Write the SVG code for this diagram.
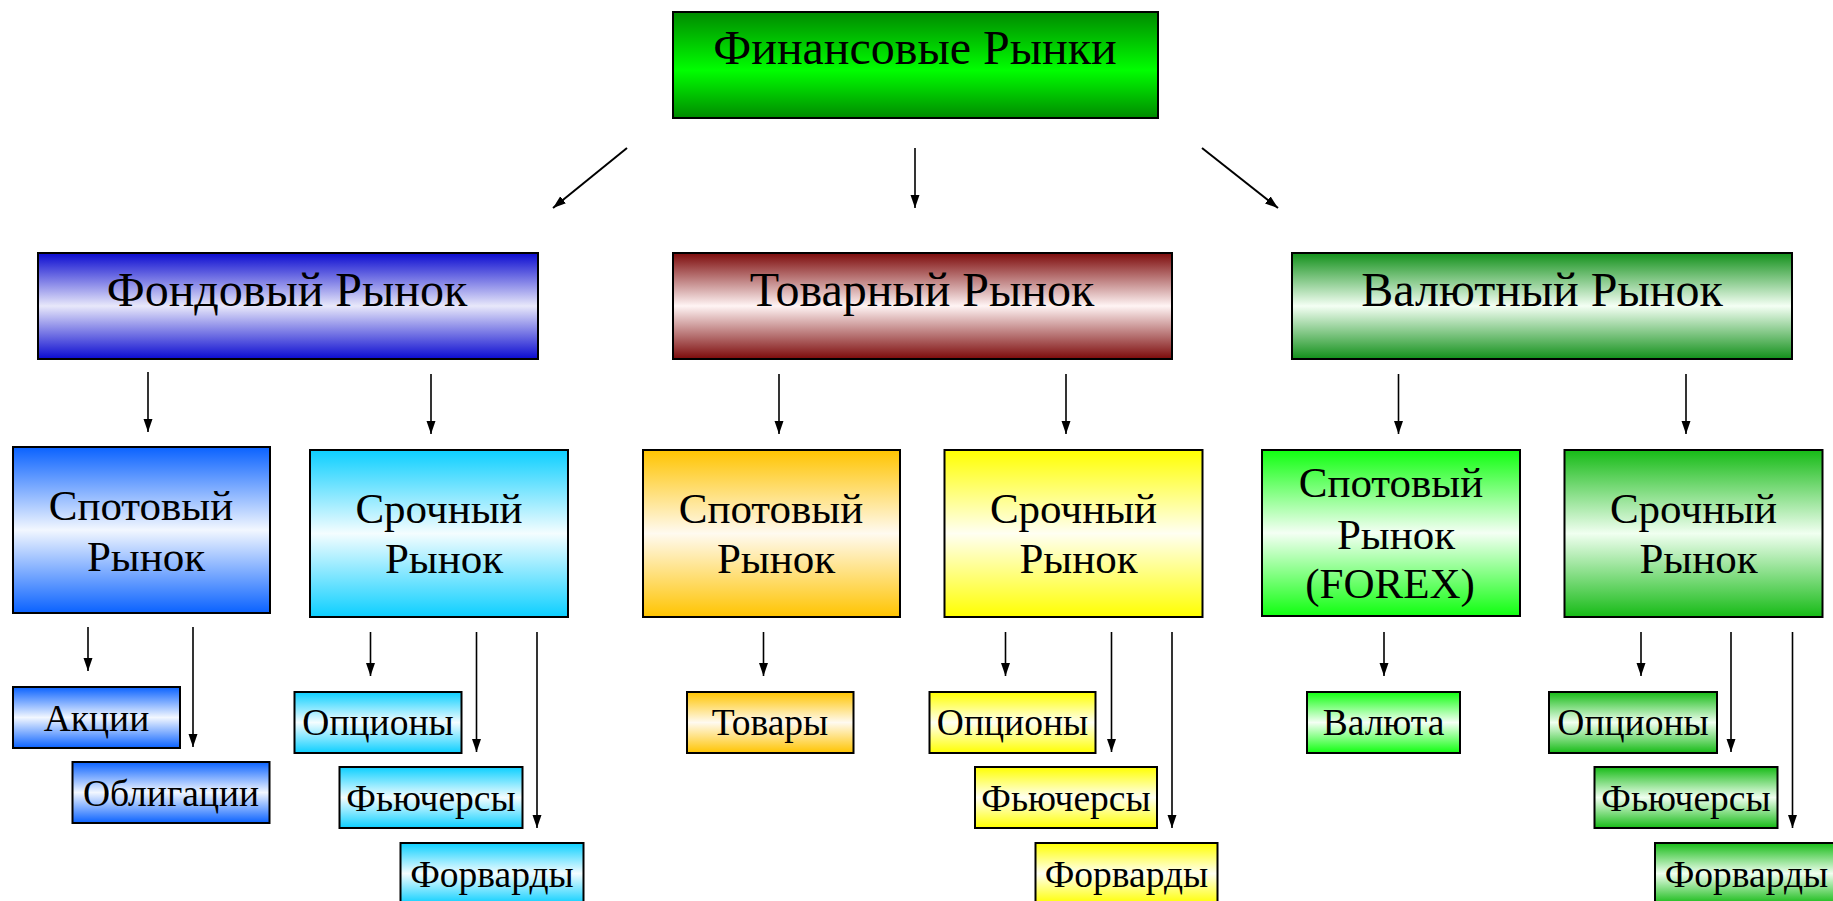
<svg xmlns="http://www.w3.org/2000/svg" width="1833" height="901" viewBox="0 0 1833 901">
<style>
.box{stroke:#000;stroke-width:2}
text{font-family:"Liberation Serif","Times New Roman",serif;fill:#000;text-anchor:middle}
.t1{font-size:48px}
.t2{font-size:43px}
.t3{font-size:37.5px}
.c line{stroke:#000;stroke-width:1.6;fill:none}
</style>
<defs>
<marker id="ah" markerUnits="userSpaceOnUse" markerWidth="14" markerHeight="10" refX="13" refY="4.5" orient="auto">
<path d="M0,0 L13,4.5 L0,9 z" fill="#000"/>
</marker>
<linearGradient id="gTop" x1="0" y1="0" x2="0" y2="1"><stop offset="0" stop-color="#008a00"/><stop offset="0.55" stop-color="#00ff00"/><stop offset="1" stop-color="#008a00"/></linearGradient>
<linearGradient id="gFond" x1="0" y1="0" x2="0" y2="1"><stop offset="0" stop-color="#0a0ad0"/><stop offset="0.5" stop-color="#e8e8fa"/><stop offset="1" stop-color="#0a0ad0"/></linearGradient>
<linearGradient id="gTov" x1="0" y1="0" x2="0" y2="1"><stop offset="0" stop-color="#7c0a0a"/><stop offset="0.5" stop-color="#fff4f4"/><stop offset="1" stop-color="#7c0a0a"/></linearGradient>
<linearGradient id="gVal" x1="0" y1="0" x2="0" y2="1"><stop offset="0" stop-color="#12901a"/><stop offset="0.5" stop-color="#f4fff4"/><stop offset="1" stop-color="#12901a"/></linearGradient>
<linearGradient id="gBlue" x1="0" y1="0" x2="0" y2="1"><stop offset="0" stop-color="#0a62ff"/><stop offset="0.5" stop-color="#f2f7ff"/><stop offset="1" stop-color="#0a62ff"/></linearGradient>
<linearGradient id="gCyan" x1="0" y1="0" x2="0" y2="1"><stop offset="0" stop-color="#0ccfff"/><stop offset="0.5" stop-color="#f4fdff"/><stop offset="1" stop-color="#0ccfff"/></linearGradient>
<linearGradient id="gOrange" x1="0" y1="0" x2="0" y2="1"><stop offset="0" stop-color="#ffc400"/><stop offset="0.5" stop-color="#fffaf0"/><stop offset="1" stop-color="#ffc400"/></linearGradient>
<linearGradient id="gYellow" x1="0" y1="0" x2="0" y2="1"><stop offset="0" stop-color="#ffff00"/><stop offset="0.5" stop-color="#fffff2"/><stop offset="1" stop-color="#ffff00"/></linearGradient>
<linearGradient id="gLime" x1="0" y1="0" x2="0" y2="1"><stop offset="0" stop-color="#10ff10"/><stop offset="0.5" stop-color="#f4fff4"/><stop offset="1" stop-color="#10ff10"/></linearGradient>
<linearGradient id="gGreen" x1="0" y1="0" x2="0" y2="1"><stop offset="0" stop-color="#16bb16"/><stop offset="0.5" stop-color="#f0fff0"/><stop offset="1" stop-color="#16bb16"/></linearGradient>
</defs>
<rect width="1833" height="901" fill="#fff"/>

<g class="c" id="connectors" marker-end="url(#ah)">
<line x1="627" y1="148" x2="553" y2="208" marker-end="url(#ah)" style="stroke-width:2"/>
<line x1="915" y1="148" x2="915" y2="208" marker-end="url(#ah)"/>
<line x1="1202" y1="148" x2="1278" y2="208" marker-end="url(#ah)" style="stroke-width:2"/>
<line x1="148" y1="372" x2="148" y2="432" marker-end="url(#ah)"/>
<line x1="431" y1="374" x2="431" y2="434" marker-end="url(#ah)"/>
<line x1="779" y1="374" x2="779" y2="434" marker-end="url(#ah)"/>
<line x1="1066" y1="374" x2="1066" y2="434" marker-end="url(#ah)"/>
<line x1="1398.5" y1="374" x2="1398.5" y2="434" marker-end="url(#ah)"/>
<line x1="1686" y1="374" x2="1686" y2="434" marker-end="url(#ah)"/>
<line x1="88" y1="627" x2="88" y2="671" marker-end="url(#ah)"/>
<line x1="193" y1="627" x2="193" y2="747" marker-end="url(#ah)"/>
<line x1="370.5" y1="632" x2="370.5" y2="676" marker-end="url(#ah)"/>
<line x1="476.5" y1="632" x2="476.5" y2="752" marker-end="url(#ah)"/>
<line x1="537" y1="632" x2="537" y2="828" marker-end="url(#ah)"/>
<line x1="763.5" y1="632" x2="763.5" y2="676" marker-end="url(#ah)"/>
<line x1="1005.5" y1="632" x2="1005.5" y2="676" marker-end="url(#ah)"/>
<line x1="1111.5" y1="632" x2="1111.5" y2="752" marker-end="url(#ah)"/>
<line x1="1172" y1="632" x2="1172" y2="828" marker-end="url(#ah)"/>
<line x1="1384" y1="632" x2="1384" y2="676" marker-end="url(#ah)"/>
<line x1="1641" y1="632" x2="1641" y2="676" marker-end="url(#ah)"/>
<line x1="1731" y1="632" x2="1731" y2="752" marker-end="url(#ah)"/>
<line x1="1792.5" y1="632" x2="1792.5" y2="828" marker-end="url(#ah)"/>
</g>

<g id="n-fin"><rect class="box" x="673" y="12" width="485" height="106" fill="url(#gTop)"/><text class="t1" x="915" y="64">Финансовые Рынки</text></g>

<g id="n-fond"><rect class="box" x="38" y="253" width="500" height="106" fill="url(#gFond)"/><text class="t1" x="287" y="306">Фондовый Рынок</text></g>
<g id="n-tov"><rect class="box" x="673" y="253" width="499" height="106" fill="url(#gTov)"/><text class="t1" x="922" y="306">Товарный Рынок</text></g>
<g id="n-val"><rect class="box" x="1292" y="253" width="500" height="106" fill="url(#gVal)"/><text class="t1" x="1542" y="306">Валютный Рынок</text></g>

<g id="n-fond-spot"><rect class="box" x="13" y="447" width="257" height="166" fill="url(#gBlue)"/><text class="t2" x="141" y="520">Спотовый</text><text class="t2" x="146" y="571">Рынок</text></g>
<g id="n-fond-sroch"><rect class="box" x="310" y="450" width="258" height="167" fill="url(#gCyan)"/><text class="t2" x="439" y="523">Срочный</text><text class="t2" x="444" y="573">Рынок</text></g>
<g id="n-tov-spot"><rect class="box" x="643" y="450" width="257" height="167" fill="url(#gOrange)"/><text class="t2" x="771" y="523">Спотовый</text><text class="t2" x="776" y="573">Рынок</text></g>
<g id="n-tov-sroch"><rect class="box" x="944.5" y="450" width="258" height="167" fill="url(#gYellow)"/><text class="t2" x="1073.5" y="523">Срочный</text><text class="t2" x="1078.5" y="573">Рынок</text></g>
<g id="n-val-spot"><rect class="box" x="1262" y="450" width="258" height="166" fill="url(#gLime)"/><text class="t2" x="1391" y="497">Спотовый</text><text class="t2" x="1396" y="549">Рынок</text><text class="t2" x="1390" y="598">(FOREX)</text></g>
<g id="n-val-sroch"><rect class="box" x="1564.5" y="450" width="258" height="167" fill="url(#gGreen)"/><text class="t2" x="1693.5" y="523">Срочный</text><text class="t2" x="1698.5" y="573">Рынок</text></g>

<g id="n-akcii"><rect class="box" x="13" y="687" width="167" height="61" fill="url(#gBlue)"/><text class="t3" x="96.5" y="731">Акции</text></g>
<g id="n-oblig"><rect class="box" x="72.5" y="762" width="197" height="61" fill="url(#gBlue)"/><text class="t3" x="171" y="806">Облигации</text></g>
<g id="n-opt1"><rect class="box" x="294.5" y="692" width="167" height="61" fill="url(#gCyan)"/><text class="t3" x="378" y="735">Опционы</text></g>
<g id="n-fut1"><rect class="box" x="339.5" y="767" width="183" height="61" fill="url(#gCyan)"/><text class="t3" x="431" y="811">Фьючерсы</text></g>
<g id="n-fwd1"><rect class="box" x="400.5" y="843" width="183" height="61" fill="url(#gCyan)"/><text class="t3" x="492" y="887">Форварды</text></g>
<g id="n-tovary"><rect class="box" x="687" y="692" width="166.5" height="61" fill="url(#gOrange)"/><text class="t3" x="770" y="735">Товары</text></g>
<g id="n-opt2"><rect class="box" x="929.5" y="692" width="166" height="61" fill="url(#gYellow)"/><text class="t3" x="1012.5" y="735">Опционы</text></g>
<g id="n-fut2"><rect class="box" x="975" y="767" width="182" height="61" fill="url(#gYellow)"/><text class="t3" x="1066" y="811">Фьючерсы</text></g>
<g id="n-fwd2"><rect class="box" x="1035.5" y="843" width="182" height="61" fill="url(#gYellow)"/><text class="t3" x="1126.5" y="887">Форварды</text></g>
<g id="n-valuta"><rect class="box" x="1307" y="692" width="153" height="61" fill="url(#gLime)"/><text class="t3" x="1383.5" y="735">Валюта</text></g>
<g id="n-opt3"><rect class="box" x="1549" y="692" width="168" height="61" fill="url(#gGreen)"/><text class="t3" x="1633" y="735">Опционы</text></g>
<g id="n-fut3"><rect class="box" x="1594.5" y="767" width="183" height="61" fill="url(#gGreen)"/><text class="t3" x="1686" y="811">Фьючерсы</text></g>
<g id="n-fwd3"><rect class="box" x="1655" y="843" width="183" height="61" fill="url(#gGreen)"/><text class="t3" x="1746.5" y="887">Форварды</text></g>
</svg>
